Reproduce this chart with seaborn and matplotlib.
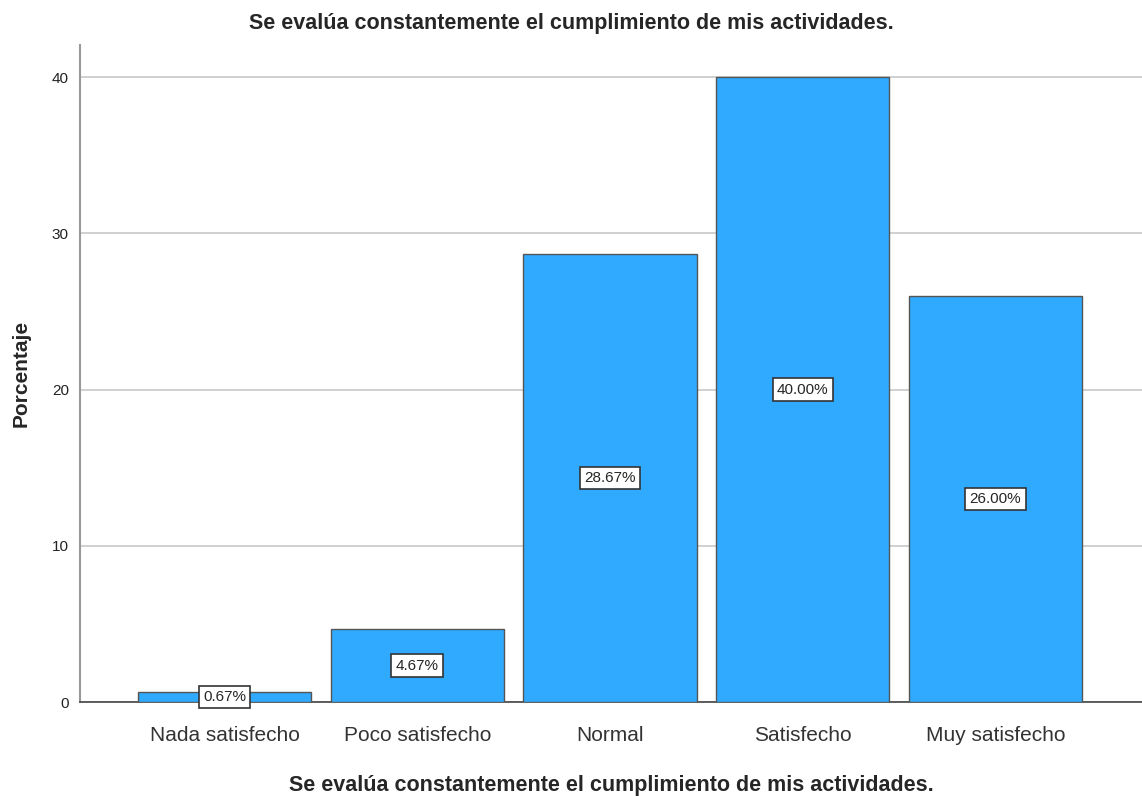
import matplotlib
matplotlib.use("Agg")
import matplotlib.pyplot as plt
import seaborn as sns
import pandas as pd

categories = ["Nada satisfecho", "Poco satisfecho", "Normal", "Satisfecho", "Muy satisfecho"]
percentages = [0.67, 4.67, 28.67, 40.00, 26.00]
y_ticks = [0, 10, 20, 30, 40]
title = "Se evalúa constantemente el cumplimiento de mis actividades."

sns.set_style("white")
plt.rcParams["font.family"] = ["Liberation Sans", "DejaVu Sans"]

df = pd.DataFrame({"categoria": categories, "porcentaje": percentages})

fig = plt.figure(figsize=(11.42, 7.96), dpi=100)
ax = fig.add_axes([0.070, 0.118, 0.930, 0.8255])

sns.barplot(data=df, x="categoria", y="porcentaje", color="#30AAFF", saturation=1,
            width=0.9, edgecolor="#555555", linewidth=1, ax=ax, zorder=3)

# etiquetas con el porcentaje en medio de cada barra
for i, v in enumerate(percentages):
    ax.text(i, v / 2, f"{v:.2f}%", ha="center", va="center", fontsize=11, zorder=5,
            bbox=dict(boxstyle="square,pad=0.28", facecolor="white", edgecolor="#333333", linewidth=1.2))

ax.set_xlim(-0.75, 4.76)
ax.set_ylim(0, 42.05)
ax.set_yticks(y_ticks)
ax.yaxis.grid(True, color="#C8C8C8", linewidth=1.2, zorder=0)
ax.set_axisbelow(True)

for side in ["top", "right"]:
    ax.spines[side].set_visible(False)
ax.spines["left"].set_color("#999999")
ax.spines["left"].set_linewidth(1.5)
ax.spines["bottom"].set_color("#444444")
ax.spines["bottom"].set_linewidth(1.2)

ax.tick_params(axis="x", labelsize=15, length=0, pad=17, labelcolor="#333333")
ax.tick_params(axis="y", labelsize=11, length=0, pad=8, labelcolor="#222222")

ax.set_xlabel(title, fontsize=15.5, fontweight="bold", labelpad=22)
ax.set_ylabel("Porcentaje", fontsize=15, fontweight="bold")
ax.yaxis.set_label_coords(-0.046, 0.5)
fig.text(0.5, 0.970, title, ha="center", va="center", fontsize=15.5, fontweight="bold")

fig.savefig("out.png", dpi=100)
